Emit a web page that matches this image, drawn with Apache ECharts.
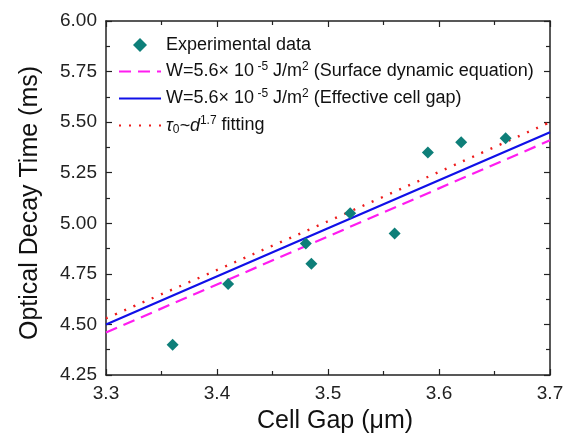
<!DOCTYPE html>
<html>
<head>
<meta charset="utf-8">
<script src="https://cdn.jsdelivr.net/npm/echarts@6/dist/echarts.min.js"></script>
<style>html,body{margin:0;padding:0;background:#fff}#c{width:576px;height:439px}</style>
</head>
<body>
<div id="c"></div>
<script>
// Experimental data
var cellGap   = [3.36, 3.41, 3.48, 3.485, 3.52, 3.56, 3.59, 3.62, 3.66];
var decayTime = [4.40, 4.70, 4.90, 4.80, 5.05, 4.95, 5.35, 5.40, 5.42];
// Model curves
var curveX    = [3.3, 3.5, 3.7];
var surfaceY  = [4.46, 4.935, 5.41];
var effectiveY= [4.50, 4.975, 5.45];
var fittingY  = [4.53, 5.01, 5.50];
// Axes
var xMin = 3.3, xMax = 3.7, xStep = 0.1;
var yMin = 4.25, yMax = 6.0, yStep = 0.25;
var xTitle = 'Cell Gap (\u03bcm)';
var yTitle = 'Optical Decay Time (ms)';

function pairs(xs, ys){ return xs.map(function(x,i){ return [x, ys[i]]; }); }

var FONT = '"Liberation Sans", Arial, sans-serif';
var AX = '#222';
var legendText = {
  exp: 'Experimental data',
  surf: 'W=5.6\u00d7 10{sup| -5} J/m{sup|2} (Surface dynamic equation)',
  eff: 'W=5.6\u00d7 10{sup| -5} J/m{sup|2} (Effective cell gap)',
  fit: '{it|\u03c4}{sub|0}{it|~d}{sup|1.7} fitting'
};

var chart = echarts.init(document.getElementById('c'), null, {renderer:'canvas'});
var baseX = {
  type:'value', min:xMin, max:xMax, interval:xStep,
  axisLine:{show:true, lineStyle:{color:AX, width:1.5}},
  axisTick:{show:true, inside:true, length:6, lineStyle:{color:AX, width:1.2}},
  minorTick:{show:true, splitNumber:2, length:4, lineStyle:{color:AX, width:1.2}},
  splitLine:{show:false}, minorSplitLine:{show:false}
};
var baseY = {
  type:'value', min:yMin, max:yMax, interval:yStep,
  axisLine:{show:true, lineStyle:{color:AX, width:1.5}},
  axisTick:{show:true, inside:true, length:6, lineStyle:{color:AX, width:1.2}},
  minorTick:{show:true, splitNumber:2, length:4, lineStyle:{color:AX, width:1.2}},
  splitLine:{show:false}, minorSplitLine:{show:false}
};
function clone(o){ return JSON.parse(JSON.stringify(o)); }

var xBottom = clone(baseX);
xBottom.position = 'bottom';
xBottom.axisLabel = {show:true, formatter:function(v){return v.toFixed(1);}, fontFamily:FONT, fontSize:19, color:'#222', margin:9};
xBottom.name = xTitle; xBottom.nameLocation='middle'; xBottom.nameGap=34;
xBottom.nameTextStyle = {fontFamily:FONT, fontSize:25, color:'#111', padding:[0,0,0,14]};
var xTop = clone(baseX);
xTop.position='top'; xTop.axisLabel={show:false};
var yLeft = clone(baseY);
yLeft.position='left';
yLeft.axisLabel = {show:true, formatter:function(v){return v.toFixed(2);}, fontFamily:FONT, fontSize:19, color:'#222', margin:9};
yLeft.name = yTitle; yLeft.nameLocation='middle'; yLeft.nameGap=63;
yLeft.nameTextStyle = {fontFamily:FONT, fontSize:25, color:'#111', padding:[0,10,0,0]};
var yRight = clone(baseY);
yRight.position='right'; yRight.axisLabel={show:false};

var diamondPath = 'path://M5,0L10,5L5,10L0,5Z';

chart.setOption({
  animation:false,
  backgroundColor:'#fff',
  grid:{left:106, right:26, top:21, bottom:61, containLabel:false},
  xAxis:[xBottom, xTop],
  yAxis:[yLeft, yRight],
  legend:{
    orient:'vertical', left:113, top:30, itemGap:6, itemWidth:42, itemHeight:14,
    symbolKeepAspect:true,
    data:[
      {name:'exp', icon:diamondPath},
      {name:'surf', itemStyle:{opacity:0}},
      {name:'eff', itemStyle:{opacity:0}},
      {name:'fit', itemStyle:{opacity:0}}
    ],
    formatter:function(n){ return legendText[n]; },
    textStyle:{fontFamily:FONT, fontSize:18, color:'#111', lineHeight:20,
      rich:{
        sup:{fontFamily:FONT, fontSize:12, color:'#111', lineHeight:20, padding:[0,0,9,0]},
        sub:{fontFamily:FONT, fontSize:12, color:'#111', lineHeight:20, padding:[8,0,0,0]},
        it:{fontFamily:FONT, fontSize:18, fontStyle:'italic', color:'#111', lineHeight:20}
      }}
  },
  series:[
    {name:'exp', type:'scatter', symbol:'diamond', symbolSize:12,
     itemStyle:{color:'#0e7f79', opacity:1}, data:pairs(cellGap, decayTime), z:5},
    {name:'surf', type:'line', symbol:'none', data:pairs(curveX, surfaceY),
     lineStyle:{color:'#ff1cf0', width:2.2, type:[12,7]}, itemStyle:{color:'#ff1cf0'}},
    {name:'eff', type:'line', symbol:'none', data:pairs(curveX, effectiveY),
     lineStyle:{color:'#1010e8', width:2.2, type:'solid'}, itemStyle:{color:'#1010e8'}},
    {name:'fit', type:'line', symbol:'none', data:pairs(curveX, fittingY), smooth:true,
     lineStyle:{color:'#ee1c1c', width:2.4, type:[2,8]}, itemStyle:{color:'#ee1c1c'}}
  ]
});
</script>
</body>
</html>
